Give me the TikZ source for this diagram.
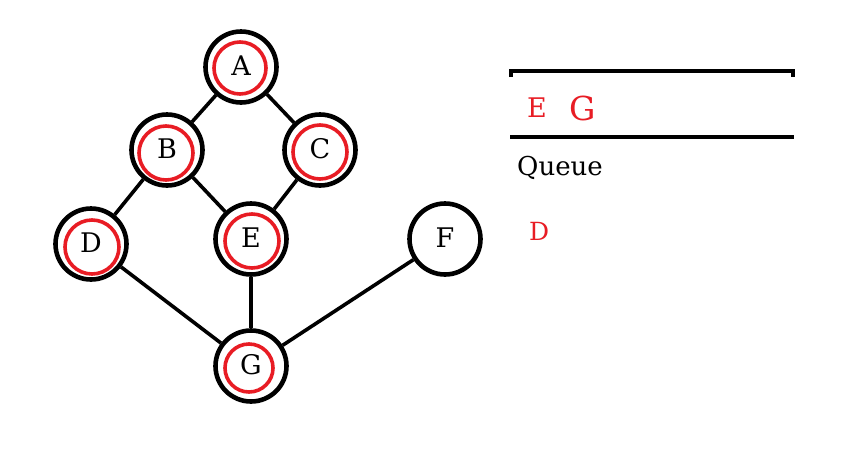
\documentclass[tikz,border=0pt]{standalone}
\usepackage{fontspec}
\setmainfont{DejaVu Serif}
\usetikzlibrary{calc}
\definecolor{mark}{RGB}{232,28,36}
\begin{document}
\begin{tikzpicture}[x=1pt,y=-1pt,
  vtx/.style={circle, draw=black, line width=4.6pt, minimum size=71pt, inner sep=0pt, fill=white},
  lbl/.style={font=\fontsize{27}{30}\selectfont, inner sep=0pt},
  ring/.style={draw=mark, line width=3.6pt},
  edge/.style={draw=black, line width=3.6pt},
  qline/.style={draw=black, line width=3.8pt},
  qtext/.style={font=\fontsize{26}{30}\selectfont, inner sep=0pt, anchor=base west}]
\useasboundingbox[fill=white] (0,0) rectangle (846,456);
% vertices
\node[vtx] (A) at (241,67) {};
\node[vtx] (B) at (167,150) {};
\node[vtx] (C) at (320,150) {};
\node[vtx] (D) at (91,244) {};
\node[vtx] (E) at (251,239) {};
\node[vtx] (F) at (445,239) {};
\node[vtx] (G) at (251,366) {};
% edges
\draw[edge] (A) -- (B);
\draw[edge] (A) -- (C);
\draw[edge] (B) -- (D);
\draw[edge] (B) -- (E);
\draw[edge] (C) -- (E);
\draw[edge] (D) -- (G);
\draw[edge] (E) -- (G);
\draw[edge] (F) -- (G);
% red marks
\draw[ring] (240,68) circle (26);
\draw[ring] (166,153) circle (27);
\draw[ring] (320,152) circle (27);
\draw[ring] (92,247) circle (27);
\draw[ring] (252,241) circle (27);
\draw[ring] (249,368) circle (24);
% labels
\foreach \n in {A,B,C,D,E,F,G} \node[lbl] at ($(\n)+(0,-1)$) {\n};
% queue
\draw[qline] (511,77) -- (511,71) -- (793,71) -- (793,77);
\draw[qline] (510,137) -- (794,137);
\node[qtext, text=mark, font=\fontsize{27}{30}\selectfont] (qe) at (527,117) {E};
\node[qtext, text=mark, font=\fontsize{33}{36}\selectfont] (qg) at (569,120) {G};
\node[qtext] (qq) at (517,175) {Queue};
\node[qtext, text=mark, font=\fontsize{25}{28}\selectfont] (qd) at (529,240) {D};
\end{tikzpicture}
\end{document}
